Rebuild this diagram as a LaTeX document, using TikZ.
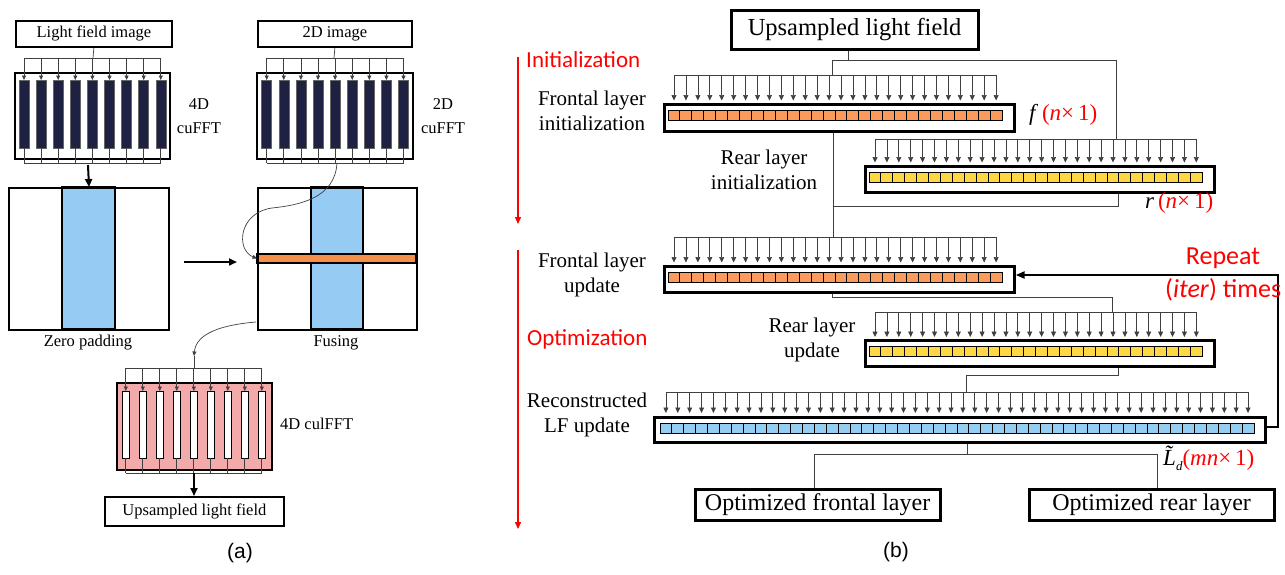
\documentclass[tikz,border=0pt]{standalone}
\usepackage{fontspec}
\setmainfont{Liberation Serif}
\newfontfamily\calfont{Carlito}
\newfontfamily\arialfont{Liberation Sans}
\usetikzlibrary{arrows.meta}
\definecolor{navybar}{HTML}{1E2142}
\definecolor{blueA}{HTML}{96CBF3}
\definecolor{orangeA}{HTML}{F5904A}
\definecolor{sqorange}{HTML}{FA9A5C}
\definecolor{sqyellow}{HTML}{FFD743}
\definecolor{sqblue}{HTML}{96CDF3}
\definecolor{pinkA}{HTML}{F3AAAB}
\newcommand{\myfsA}{\fontsize{16.5}{24}\selectfont}
\newcommand{\myfsB}{\fontsize{21}{25}\selectfont}
\begin{document}
\begin{tikzpicture}[x=1pt,y=-1pt,
 ln/.style={draw=black!75, line width=0.7pt},
 stip/.style={-{Triangle[length=4.5pt,width=4pt]}},
 mtip/.style={-{Triangle[length=5.5pt,width=5pt]}},
 btip/.style={-{Triangle[length=8pt,width=7pt]}, line width=2pt},
 abox/.style={draw, line width=1.8pt, fill=white, inner sep=0pt, anchor=north west, font=\myfsA},
 lbox/.style={draw, line width=3.2pt, fill=white, inner sep=0pt, anchor=north west},
 sq/.style={draw=black, line width=1pt},
 lbl/.style={font=\myfsB, align=center, inner sep=0pt},
 redlbl/.style={font=\calfont\fontsize{23}{27}\selectfont, text=red, inner sep=0pt},
 redbig/.style={font=\calfont\fontsize{26}{30}\selectfont, text=red, inner sep=0pt},
 mathlbl/.style={font=\fontsize{23}{25}\selectfont, inner sep=0pt, anchor=west},
]
\useasboundingbox (0,0) rectangle (1285,574);

% ================= Panel (a) =================
% Light field image -> 4D cuFFT
\node[abox, minimum width=156, minimum height=26] (lfi) at (15,20) {Light field image};
\node[draw, line width=2pt, fill=white, minimum width=155, minimum height=86, anchor=north west, inner sep=0pt] (fft4) at (13.5,72) {};
\foreach \i in {0,...,8} \draw[draw=black!60, line width=0.5pt, fill=navybar] ({19+\i*17.1},80) rectangle ++(10,68);
\coordinate (t4) at (93,58);
\draw[ln] (lfi.south) -- (t4);
\draw[ln] (24,58) -- (160.8,58);
\foreach \i in {0,...,8} \draw[ln,stip] ({24+\i*17.1},58) -- ({24+\i*17.1},80);
\foreach \i in {0,...,8} \draw[ln] ({24+\i*17.1},148) -- ({24+\i*17.1},163);
\draw[ln] (24,163) -- (160.8,163);
\node[font=\myfsA, align=center, inner sep=0pt] (t4l) at (199,116) {4D\\cuFFT};

% 2D image -> 2D cuFFT
\node[abox, minimum width=154, minimum height=26] (img2d) at (257,20) {2D image};
\node[draw, line width=2pt, fill=white, minimum width=156, minimum height=86, anchor=north west, inner sep=0pt] (fft2) at (256,72) {};
\foreach \i in {0,...,8} \draw[draw=black!60, line width=0.5pt, fill=navybar] ({261.7+\i*17.1},80) rectangle ++(10,68);
\coordinate (t2) at (334,58);
\draw[ln] (img2d.south) -- (t2);
\draw[ln] (266.7,58) -- (403.5,58);
\foreach \i in {0,...,8} \draw[ln,stip] ({266.7+\i*17.1},58) -- ({266.7+\i*17.1},80);
\foreach \i in {0,...,8} \draw[ln] ({266.7+\i*17.1},148) -- ({266.7+\i*17.1},163);
\draw[ln] (266.7,163) -- (403.5,163);
\node[font=\myfsA, align=center, inner sep=0pt] (t2l) at (443,116) {2D\\cuFFT};

% Zero padding block
\draw[line width=1.6pt, fill=blueA] (62,187) rectangle (115,329);
\node[draw, line width=2pt, minimum width=160, minimum height=142, anchor=north west, inner sep=0pt] (zp) at (8,187) {};
\node[font=\myfsA, inner sep=0pt] (zpl) at (88,343) {Zero padding};
\coordinate (a4s) at (88,165);
\draw[btip] (a4s) -- (zp.north);

% Fusing block
\draw[line width=1.6pt, fill=blueA] (311,187) rectangle (363,329);
\draw[line width=1.6pt, fill=orangeA] (257,254) rectangle (416,263);
\node[draw, line width=2pt, minimum width=159, minimum height=142, anchor=north west, inner sep=0pt] (fu) at (257,187) {};
\node[font=\myfsA, inner sep=0pt] (ful0) at (336,343) {Fusing};
\coordinate (zpr) at (184,262);
\coordinate (ful) at (237,262);
\draw[btip] (zpr) -- (ful);

% curve from 2D cuFFT to orange stripe
\coordinate (c2d) at (337,163);
\coordinate (fusin) at (257,258.5);
\draw[ln,stip] (c2d) .. controls (335,198) and (300,205) .. (272,208) .. controls (238,213) and (236,250) .. (fusin);

% curve from fusing to pink 4D culFFT
\coordinate (fusout) at (256,322);
\coordinate (p4in) at (194,356);
\coordinate (p4top) at (194,368);
\draw[ln,stip] (fusout) .. controls (220,325) and (196,334) .. (p4in);
\draw[ln] (p4in) -- (p4top);

% Pink 4D culFFT
\node[draw, line width=2pt, fill=pinkA, minimum width=155, minimum height=87, anchor=north west, inner sep=0pt] (p4) at (116,382) {};
\foreach \i in {0,...,8} \draw[draw=black, line width=0.8pt, fill=white] ({122.3+\i*17},391) rectangle ++(7,67);
\draw[ln] (125.8,368) -- (261.8,368);
\foreach \i in {0,...,8} \draw[ln,stip] ({125.8+\i*17},368) -- ({125.8+\i*17},391);
\foreach \i in {0,...,8} \draw[ln] ({125.8+\i*17},458) -- ({125.8+\i*17},473);
\draw[ln] (125.8,473) -- (261.8,473);
\node[font=\myfsA, anchor=west, inner sep=0pt] (p4l) at (280,424) {4D culFFT};
\node[abox, minimum width=179, minimum height=29] (upa) at (104,496) {Upsampled light field};
\coordinate (p4b) at (194,473);
\draw[btip] (p4b) -- (upa.north -| p4b);

\node[font=\arialfont\fontsize{21}{24}\selectfont, inner sep=0pt] (la) at (240,553) {(a)};

% ================= Panel (b) =================
% red stage arrows
\coordinate (ia1) at (518,57);
\coordinate (ia2) at (518,224);
\coordinate (oa1) at (518,250);
\coordinate (oa2) at (518,529);
\draw[red, line width=1.4pt, -{Triangle[length=7pt,width=6pt]}] (ia1) -- (ia2);
\draw[red, line width=1.4pt, -{Triangle[length=7pt,width=6pt]}] (oa1) -- (oa2);
\node[redlbl, anchor=west] (initl) at (526,60) {Initialization};
\node[redlbl, anchor=west] (optl) at (527,339) {Optimization};

% Upsampled light field
\node[lbox, minimum width=247, minimum height=39, font=\fontsize{24.5}{26}\selectfont] (up) at (729.5,8.5) {Upsampled light field};
\coordinate (upj) at (848,60);
\coordinate (fij) at (832,75);
\coordinate (rij) at (1116,139);
\draw[ln] (up.south -| upj) -- (upj);
\draw[ln] (fij) -- (fij |- upj) -- (rij |- upj) -- (rij);

% Frontal layer initialization
\node[lbox, minimum width=350, minimum height=27] (fi) at (662.5,102.5) {};
\foreach \i in {0,...,27} \draw[sq, fill=sqorange] ({668+\i*11.93},110) rectangle ++(11.93,10);
\draw[ln] (674,75) -- (996.1,75);
\foreach \i in {0,...,27} \draw[ln,mtip] ({674+\i*11.93},75) -- ({674+\i*11.93},100.5);
\node[lbl] (fil) at (592,110.5) {Frontal layer\\initialization};
\node[mathlbl] (fl) at (1029,115) {\textit{f}\,\textcolor{red}{(\textit{n}×\,1)}};

% Rear layer initialization
\node[lbox, minimum width=349, minimum height=26] (ri) at (863.5,164.5) {};
\foreach \i in {0,...,27} \draw[sq, fill=sqyellow] ({869+\i*11.9},172) rectangle ++(11.9,10);
\draw[ln] (875,139) -- (1196.3,139);
\foreach \i in {0,...,27} \draw[ln,mtip] ({875+\i*11.9},139) -- ({875+\i*11.9},162.5);
\node[lbl] (ril) at (764,169.5) {Rear layer\\initialization};
\node[mathlbl] (rl) at (1145,203) {\textit{r}\,\textcolor{red}{(\textit{n}×\,1)}};

% connections to frontal update
\coordinate (fuj) at (833,237);
\coordinate (rio) at (1118,206);
\draw[ln] (fi.south -| fuj) -- (fuj);
\draw[ln] (ri.south -| rio) -- (rio) -- (rio -| fuj);

% Frontal layer update
\node[lbox, minimum width=350, minimum height=26] (fup) at (662.5,264.5) {};
\foreach \i in {0,...,27} \draw[sq, fill=sqorange] ({668+\i*11.93},272) rectangle ++(11.93,10);
\draw[ln] (674,237) -- (996.1,237);
\foreach \i in {0,...,27} \draw[ln,mtip] ({674+\i*11.93},237) -- ({674+\i*11.93},262.5);
\node[lbl] (fupl) at (592,274.5) {Frontal layer\\update};

\coordinate (fuo) at (832,297);
\coordinate (ruj) at (1112,312);
\draw[ln] (fup.south -| fuo) -- (fuo) -- (fuo -| ruj) -- (ruj);

% Rear layer update
\node[lbox, minimum width=349, minimum height=25.5] (ru) at (863.5,339) {};
\foreach \i in {0,...,27} \draw[sq, fill=sqyellow] ({869+\i*11.9},346) rectangle ++(11.9,10);
\draw[ln] (875,312) -- (1196.3,312);
\foreach \i in {0,...,27} \draw[ln,mtip] ({875+\i*11.9},312) -- ({875+\i*11.9},337);
\node[lbl] (rul) at (812,340) {Rear layer\\update};

\coordinate (ruo) at (1118,375);
\coordinate (lfj) at (966,392);
\draw[ln] (ru.south -| ruo) -- (ruo) -- (ruo -| lfj) -- (lfj);

% Reconstructed LF update
\node[lbox, minimum width=611, minimum height=25.5] (lf) at (652.5,415.5) {};
\foreach \i in {0,...,49} \draw[sq, fill=sqblue] ({660+\i*11.88},423) rectangle ++(11.88,10);
\draw[ln] (665.9,392) -- (1248.1,392);
\foreach \i in {0,...,49} \draw[ln,mtip] ({665.9+\i*11.88},392) -- ({665.9+\i*11.88},413);
\node[lbl] (lfl) at (587,415) {Reconstructed\\LF update};
\node[mathlbl] (ldl) at (1163,458) {{\itshape\~{L}}{\fontsize{13}{14}\selectfont\raisebox{-5pt}{\itshape d}}\textcolor{red}{(\textit{mn}×\,1)}};

% outputs
\node[lbox, minimum width=245, minimum height=31, font=\fontsize{24}{26}\selectfont] (of) at (693.5,487.5) {Optimized frontal layer};
\node[lbox, minimum width=245, minimum height=31, font=\fontsize{24}{26}\selectfont] (orl) at (1027.5,487.5) {Optimized rear layer};
\coordinate (lfo) at (967,454);
\coordinate (ofj) at (814,454);
\coordinate (orj) at (1157,454);
\draw[ln] (lf.south -| lfo) -- (lfo);
\draw[ln] (of.north -| ofj) -- (ofj) -- (orj) -- (orl.north -| orj);

% repeat loop
\coordinate (rp1) at (1278,427);
\coordinate (rp2) at (1278,275);
\draw[line width=2.2pt, -{Triangle[length=9pt,width=7pt]}] (lf.east |- rp1) -- (rp1) -- (rp2) -- (fup.east |- rp2);
\node[redbig] (rpl) at (1223,258) {Repeat};
\node[redbig, anchor=west] (itl) at (1165,290) {(\textit{iter}) times};

\node[font=\arialfont\fontsize{21}{24}\selectfont, inner sep=0pt] (lb) at (896,552) {(b)};
\end{tikzpicture}
\end{document}
